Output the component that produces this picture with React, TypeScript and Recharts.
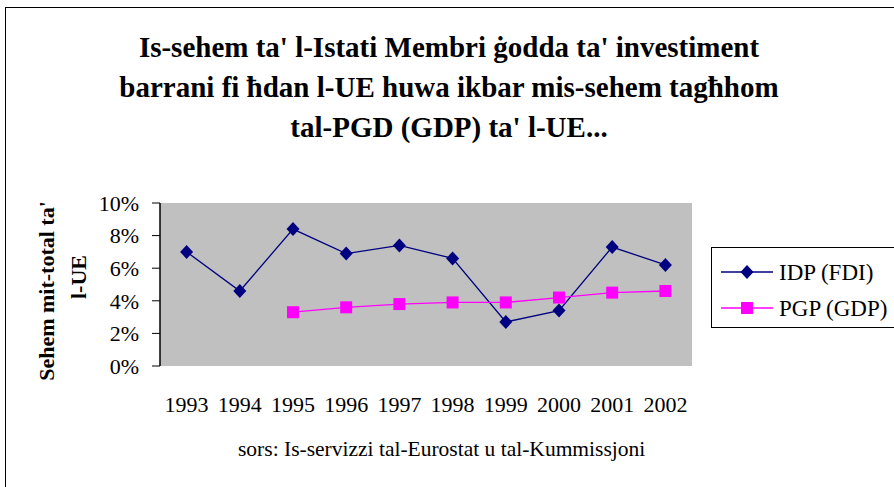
import { CartesianGrid, Line, LineChart, XAxis, YAxis } from "recharts";

const years = ["1993", "1994", "1995", "1996", "1997", "1998", "1999", "2000", "2001", "2002"];
// share of EU total (fraction)
const idpFdi = [0.07, 0.046, 0.084, 0.069, 0.074, 0.066, 0.027, 0.034, 0.073, 0.062];
const pgpGdp = [null, null, 0.033, 0.036, 0.038, 0.039, 0.039, 0.042, 0.045, 0.046];
const yTicks = [0, 0.02, 0.04, 0.06, 0.08, 0.1];
// Excel puts the x tick marks between the categories
const edgeTicks = [0, 1, 2, 3, 4, 5, 6, 7, 8, 9, 10];

const titleLines = [
  "Is-sehem ta' l-Istati Membri ġodda ta' investiment",
  "barrani fi ħdan l-UE huwa ikbar mis-sehem tagħhom",
  "tal-PGD (GDP) ta' l-UE...",
];
const yTitleLines = ["Sehem mit-total ta'", "l-UE"];
const sourceNote = "sors: Is-servizzi tal-Eurostat u tal-Kummissjoni";

const series = [
  { key: "idp", name: "IDP (FDI)", color: "#000080", shape: "diamond" },
  { key: "pgp", name: "PGP (GDP)", color: "#FF00FF", shape: "square" },
];

const data = years.map((year, i) => ({ year, idp: idpFdi[i], pgp: pgpGdp[i] }));

const SERIF = "'Liberation Serif', 'Times New Roman', serif";
const serifStyle = { fontFamily: SERIF };

function Marker({ cx, cy, shape, color }: any) {
  if (cx == null || cy == null) return <g />;
  if (shape === "diamond") {
    return (
      <polygon
        points={`${cx},${cy - 7} ${cx + 6.5},${cy} ${cx},${cy + 7} ${cx - 6.5},${cy}`}
        fill={color}
      />
    );
  }
  return <rect x={cx - 6} y={cy - 6} width={12} height={12} fill={color} />;
}

export default function App() {
  return (
    <div
      style={{
        position: "absolute",
        left: 0,
        top: 0,
        width: 894,
        height: 487,
        overflow: "hidden",
        background: "#fff",
        fontFamily: SERIF,
      }}
    >
      {/* chart frame, runs off the right and bottom edge like the original */}
      <div
        style={{
          position: "absolute",
          left: 5,
          top: 7,
          width: 920,
          height: 520,
          border: "1px solid #000",
        }}
      />

      <div style={{ position: "absolute", left: 0, top: 0 }}>
        <LineChart
          width={894}
          height={487}
          data={data}
          margin={{ top: 203, right: 202, bottom: 81, left: 100 }}
        >
          <CartesianGrid fill="#C0C0C0" fillOpacity={1} horizontal={false} vertical={false} />
          <XAxis
            xAxisId="edge"
            type="number"
            domain={[0, 10]}
            ticks={edgeTicks}
            tick={false}
            tickSize={8}
            height={0}
            axisLine={{ stroke: "#333", strokeWidth: 2 }}
            tickLine={{ stroke: "#000" }}
          />
          <XAxis
            xAxisId="cat"
            dataKey="year"
            scale="band"
            height={40}
            axisLine={false}
            tickLine={false}
            tickSize={0}
            tickMargin={30}
            interval={0}
            tick={{ fill: "#000", fontSize: 22, fontFamily: SERIF }}
          />
          <XAxis
            xAxisId="top"
            orientation="top"
            type="number"
            domain={[0, 1]}
            height={0}
            tick={false}
            tickLine={false}
            axisLine={{ stroke: "#808080", strokeWidth: 1.5 }}
          />
          <YAxis
            domain={[0, 0.1]}
            ticks={yTicks}
            width={60}
            tickSize={8}
            tickMargin={13}
            tickFormatter={(v: number) => `${Math.round(v * 100)}%`}
            axisLine={{ stroke: "#000", strokeWidth: 1.5 }}
            tickLine={{ stroke: "#000" }}
            tick={{ fill: "#000", fontSize: 22, fontFamily: SERIF }}
          />
          <YAxis
            yAxisId="r"
            orientation="right"
            domain={[0, 1]}
            width={0}
            tick={false}
            tickLine={false}
            axisLine={{ stroke: "#808080", strokeWidth: 1.5 }}
          />
          {series.map((s) => (
            <Line
              key={s.key}
              xAxisId="cat"
              dataKey={s.key}
              name={s.name}
              stroke={s.color}
              strokeWidth={1.3}
              isAnimationActive={false}
              dot={(p: any) => (
                <Marker key={`${s.key}-${p.index}`} cx={p.cx} cy={p.cy} shape={s.shape} color={s.color} />
              )}
              activeDot={false}
            />
          ))}
        </LineChart>
      </div>

      <svg
        width={894}
        height={487}
        style={{ position: "absolute", left: 0, top: 0, pointerEvents: "none", fontFamily: SERIF }}
      >
        {titleLines.map((line, i) => (
          <text
            key={line}
            x={449}
            y={56.7 + i * 40}
            textAnchor="middle"
            fontSize={29}
            fontWeight="bold"
            fill="#000"
            style={serifStyle}
          >
            {line}
          </text>
        ))}

        <text
          transform="translate(54,291) rotate(-90)"
          textAnchor="middle"
          fontSize={22}
          fontWeight="bold"
          fill="#000"
          style={serifStyle}
        >
          {yTitleLines[0]}
        </text>
        <text
          transform="translate(86,277) rotate(-90)"
          textAnchor="middle"
          fontSize={22}
          fontWeight="bold"
          fill="#000"
          style={serifStyle}
        >
          {yTitleLines[1]}
        </text>

        <text x={238} y={456} fontSize={21.5} fill="#000" style={serifStyle}>
          {sourceNote}
        </text>

        {/* legend */}
        <rect x={711.5} y={247.5} width={220} height={80} fill="#fff" stroke="#000" strokeWidth={1} />
        {series.map((s, i) => {
          const cy = 272 + i * 36;
          return (
            <g key={s.key}>
              <line x1={721} x2={773} y1={cy} y2={cy} stroke={s.color} strokeWidth={1.3} />
              <Marker cx={747} cy={cy} shape={s.shape} color={s.color} />
              <text x={779} y={cy + 7.6} fontSize={23} fill="#000" style={serifStyle}>
                {s.name}
              </text>
            </g>
          );
        })}
      </svg>
    </div>
  );
}
